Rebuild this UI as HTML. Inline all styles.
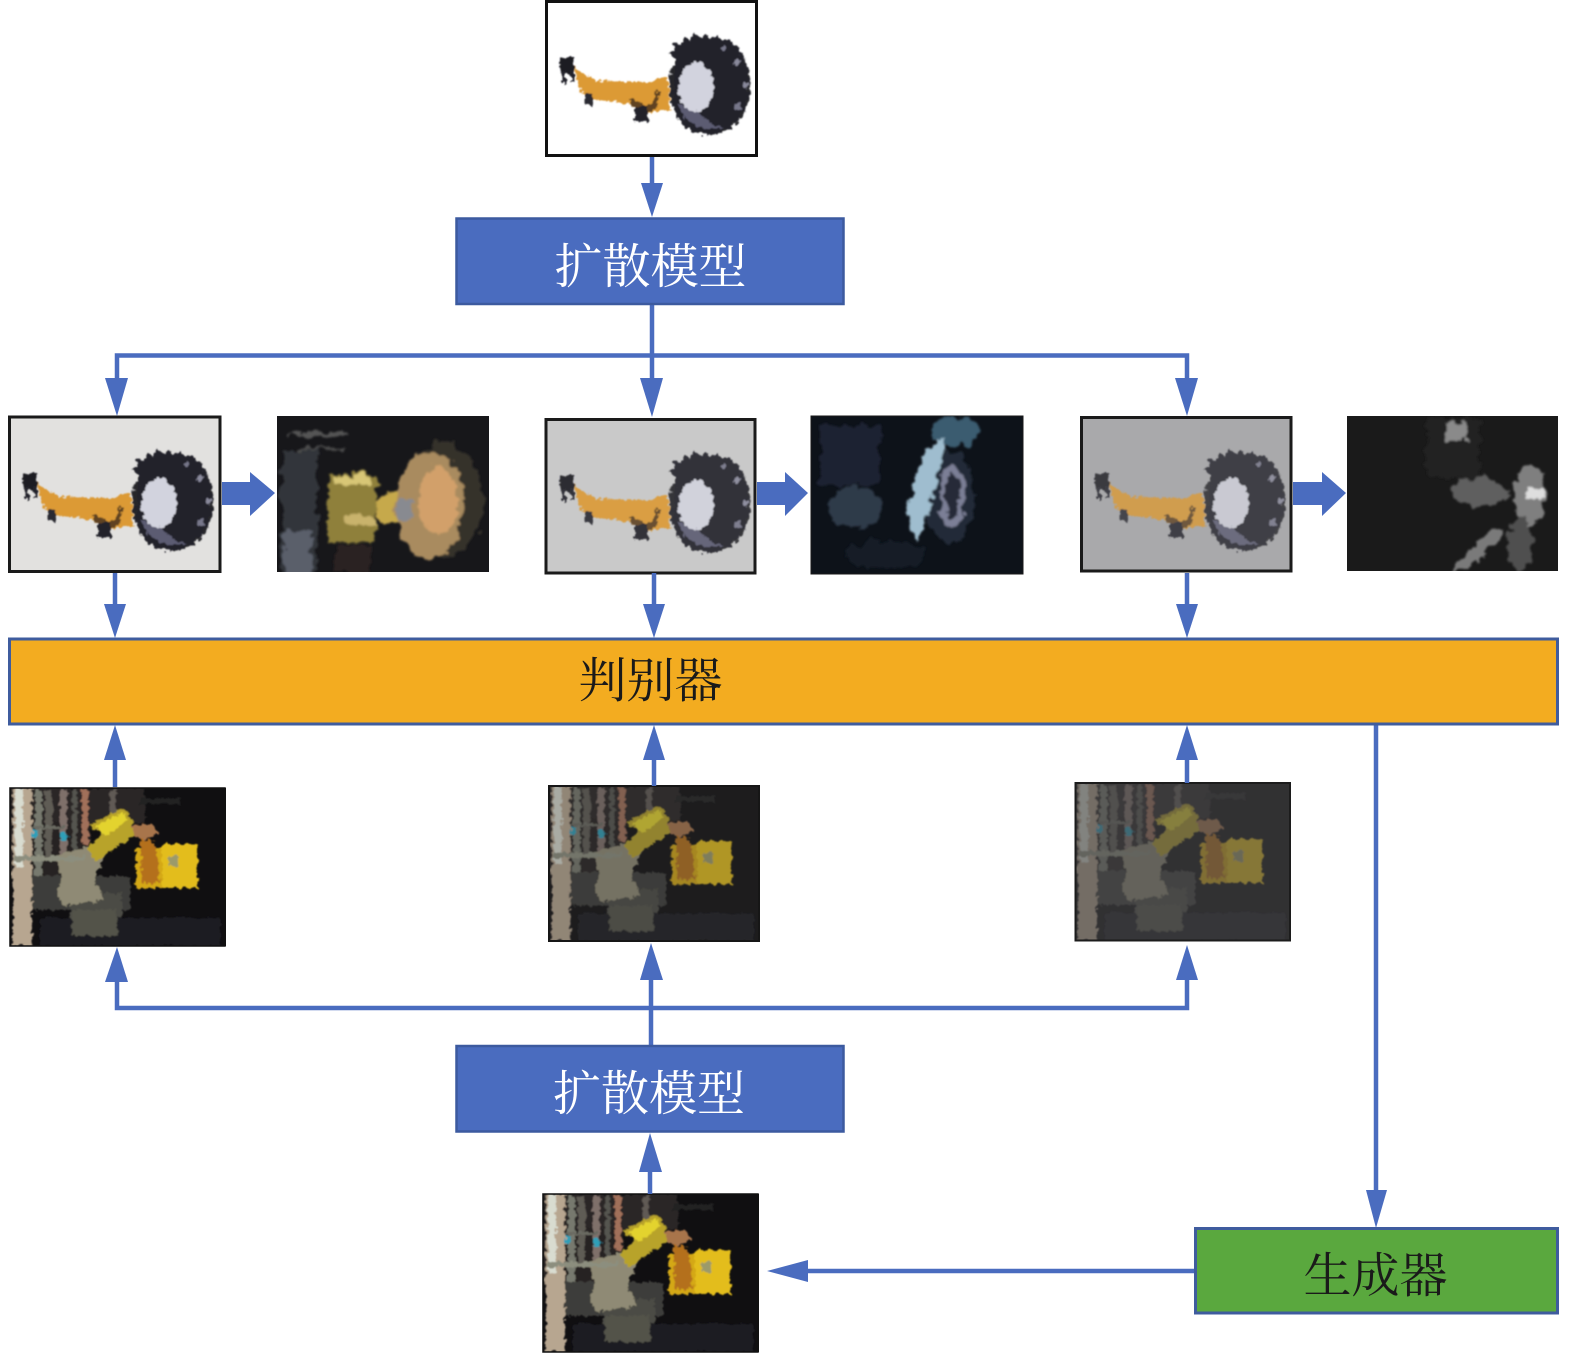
<!DOCTYPE html>
<html><head><meta charset="utf-8"><style>
html,body{margin:0;padding:0;background:#fff}
svg{display:block}
text{font-family:"Liberation Serif","Noto Serif CJK SC",serif;font-size:48px;text-anchor:middle}
</style></head><body>
<svg width="1575" height="1359" viewBox="0 0 1575 1359" xmlns="http://www.w3.org/2000/svg">
<defs>
<filter id="b" x="-10%" y="-10%" width="120%" height="120%">
  <feTurbulence type="fractalNoise" baseFrequency="0.22" numOctaves="2" seed="4" result="n"/>
  <feDisplacementMap in="SourceGraphic" in2="n" scale="7" xChannelSelector="R" yChannelSelector="G"/>
  <feGaussianBlur stdDeviation="0.7"/>
</filter>
<filter id="b2" x="-20%" y="-20%" width="140%" height="140%">
  <feTurbulence type="fractalNoise" baseFrequency="0.09" numOctaves="3" seed="7" result="n"/>
  <feDisplacementMap in="SourceGraphic" in2="n" scale="14" xChannelSelector="R" yChannelSelector="G"/>
  <feGaussianBlur stdDeviation="1"/>
</filter>
<clipPath id="c2"><rect x="0" y="0" width="216" height="158"/></clipPath>
<clipPath id="s1"><rect x="277" y="416" width="212" height="156"/></clipPath>
<clipPath id="s2"><rect x="811" y="416" width="212" height="158"/></clipPath>
<clipPath id="s3"><rect x="1347" y="416" width="211" height="155"/></clipPath>

<g id="mach" filter="url(#b)">
  <polygon points="29,67 39,74 52,81 105,82 122,77 126,111 102,112 85,104 47,99 35,91" fill="#dc9a34"/>
  <polygon points="85,98 100,106 108,102 112,90 115,92 112,108 102,112 85,104" fill="#5f4322"/>
  <rect x="15" y="57" width="14" height="17" fill="#1e1e24"/>
  <rect x="17" y="70" width="4" height="13" fill="#22222a"/><rect x="26" y="70" width="3" height="12" fill="#22222a"/>
  <rect x="40" y="94" width="7" height="11" fill="#2a2a30"/>
  <rect x="90" y="106" width="13" height="16" fill="#23232b"/>
  <ellipse cx="165" cy="86" rx="41" ry="48" fill="#26262c"/>
  <path d="M130,58l-7,-4 5,-4 1,-7 7,2 3,-7 6,3 4,-7 6,4 6,-4 5,4 7,-3 4,5 7,-1 3,6 6,1 1,7 6,4 -2,6 6,5 -3,6 4,7 -4,7 3,8 -4,5 1,8 -6,4 -1,7 -7,2 -3,7 -7,0 -4,6 -6,-3 -6,5 -5,-5 -7,2 -3,-6 -7,0 -2,-7 -6,-3 1,-7 -6,-6 4,-6 -4,-7 4,-7z" fill="#22222a"/>
  <path d="M132,104 Q146,135 178,128 Q160,122 150,108z" fill="#5c5c72"/>
  <circle cx="200" cy="85" r="3" fill="#8a8a9c"/><circle cx="192" cy="62" r="2.500" fill="#8a8a9c"/><circle cx="193" cy="107" r="4" fill="#77778a"/><circle cx="178" cy="48" r="2" fill="#77778a"/>
  <ellipse cx="151" cy="87" rx="18" ry="25" fill="#d2d3de"/>
</g>

<g id="mine" clip-path="url(#c2)">
  <rect width="216" height="158" fill="#100f11"/>
  <g filter="url(#b)">
    <rect x="0" y="0" width="135" height="35" fill="#2c2726"/>
    <rect x="0" y="35" width="80" height="55" fill="#262221"/>
    <rect x="130" y="10" width="40" height="6" fill="#222"/>
    <rect x="25" y="2" width="7" height="88" fill="#77796e"/>
    <rect x="35" y="2" width="7" height="70" fill="#5f5b55"/>
    <rect x="50" y="2" width="7" height="70" fill="#7f706a"/>
    <rect x="62" y="2" width="5" height="65" fill="#555450"/>
    <rect x="72" y="2" width="6" height="55" fill="#a1705a"/>
    <rect x="100" y="2" width="6" height="28" fill="#605a54"/>
    <rect x="14" y="38" width="40" height="3" fill="#6a6a62"/>
    <circle cx="24" cy="46" r="4" fill="#2f9fb8"/><circle cx="54" cy="48" r="4" fill="#2f9fb8"/>
    <rect x="20" y="88" width="100" height="34" fill="#3d3d3a"/>
    <rect x="60" y="105" width="52" height="44" fill="#4c4c44"/>
    <rect x="30" y="130" width="180" height="28" fill="#1e1e22"/>
    <rect x="62" y="122" width="45" height="26" fill="#53524a"/>
    <polygon points="45,68 80,58 96,65 84,92 95,112 52,118 46,102 52,92" fill="#8f8a74"/>
    <polygon points="78,38 112,20 122,30 124,48 96,66 84,75 78,60 92,45" fill="#b8a32c"/>
    <polygon points="85,38 112,25 118,32 95,48" fill="#e3d32e"/>
    <polygon points="122,38 142,36 148,45 135,52 124,48" fill="#a8754c"/>
    <rect x="126" y="60" width="62" height="40" fill="#d4a816"/>
    <rect x="152" y="56" width="36" height="44" fill="#e3bd1c"/>
    <polygon points="130,50 145,55 150,95 132,95" fill="#b4701e"/>
    <rect x="158" y="68" width="10" height="10" fill="#9b9a6a"/>
    <rect x="3" y="0" width="19" height="158" fill="#b7a690"/>
    <rect x="5" y="0" width="8" height="80" fill="#d9dcd0"/>
    <rect x="4" y="68" width="70" height="5" fill="#8c8e7e"/>
  </g>
</g>
</defs>

<!-- Top image -->
<rect x="546.500" y="1.500" width="210" height="154" fill="#fff" stroke="#111" stroke-width="3"/>
<use href="#mach" x="545" y="0"/>

<!-- Second-row images -->
<rect x="9.500" y="417" width="210.500" height="154.500" fill="#e2e1df" stroke="#1a1a1a" stroke-width="3"/>
<use href="#mach" x="8" y="416"/>

<rect x="277" y="416" width="212" height="156" fill="#17171a"/>
<g clip-path="url(#s1)"><g filter="url(#b2)">
  <rect x="281" y="450" width="36" height="128" fill="#33363a"/>
  <rect x="284" y="530" width="28" height="48" fill="#5a5f6a"/>
  <rect x="290" y="432" width="60" height="4" fill="#555"/>
  <rect x="300" y="447" width="45" height="3" fill="#4c4c4c"/>
  <rect x="328" y="474" width="48" height="68" fill="#8f803a"/>
  <rect x="334" y="476" width="38" height="9" fill="#d8c676"/>
  <rect x="345" y="515" width="30" height="12" fill="#c9b36c"/>
  <rect x="335" y="545" width="35" height="27" fill="#2b2320"/>
  <ellipse cx="390" cy="508" rx="14" ry="16" fill="#c6a94c"/>
  <ellipse cx="442" cy="500" rx="42" ry="58" fill="#35302b"/>
  <ellipse cx="430" cy="505" rx="34" ry="54" fill="#a98b5e"/>
  <ellipse cx="438" cy="500" rx="20" ry="34" fill="#d2a06a"/>
  <rect x="398" y="498" width="14" height="22" fill="#888a90"/>
</g></g>

<rect x="546" y="419.500" width="209" height="153.500" fill="#c9c9c9" stroke="#1a1a1a" stroke-width="3"/>
<use href="#mach" x="545" y="418" opacity=".9"/>

<rect x="811" y="416" width="212" height="158" fill="#0d1219" stroke="#1a1a1a" stroke-width="1"/>
<g clip-path="url(#s2)"><g filter="url(#b2)">
  <rect x="820" y="425" width="60" height="60" fill="#1b2430"/>
  <ellipse cx="955" cy="432" rx="24" ry="15" fill="#3b5c70"/>
  <ellipse cx="855" cy="508" rx="28" ry="22" fill="#2d3a4a"/>
  <ellipse cx="885" cy="555" rx="40" ry="14" fill="#161d28"/>
  <ellipse cx="950" cy="497" rx="24" ry="46" fill="#242a38"/>
  <ellipse cx="952" cy="497" rx="13" ry="32" fill="#7b7f96"/>
  <ellipse cx="952" cy="497" rx="7" ry="23" fill="#252a38"/>
  <polygon points="905,515 925,450 945,437 930,510 917,540" fill="#9fbdcf"/>
</g></g>

<rect x="1081.500" y="417.500" width="209.500" height="153.500" fill="#a9a9ab" stroke="#1a1a1a" stroke-width="3"/>
<use href="#mach" x="1080" y="416" opacity=".78"/>

<rect x="1347" y="416" width="211" height="155" fill="#1a1a1a"/>
<g clip-path="url(#s3)"><g filter="url(#b2)">
  <rect x="1425" y="418" width="55" height="60" fill="#232323"/>
  <rect x="1445" y="422" width="22" height="18" fill="#8a8a8a"/>
  <ellipse cx="1480" cy="492" rx="28" ry="15" fill="#5f5f5f"/>
  <ellipse cx="1530" cy="495" rx="16" ry="30" fill="#7f7f7f"/>
  <rect x="1525" y="487" width="18" height="12" fill="#dedede"/>
  <polygon points="1450,571 1490,530 1505,532 1470,571" fill="#7a7a7a"/>
  <ellipse cx="1520" cy="545" rx="12" ry="28" fill="#4f4f4f"/>
</g></g>

<!-- Third-row images -->
<use href="#mine" transform="translate(10,788)"/>
<rect x="10" y="788" width="215" height="158" fill="none" stroke="#111" stroke-width="1.500"/>

<g transform="translate(549,786) scale(.974,.982)"><use href="#mine"/><rect width="216" height="158" fill="#3a3a3c" opacity=".3"/></g>
<rect x="549" y="786" width="210" height="155" fill="none" stroke="#161616" stroke-width="2"/>

<g transform="translate(1075,783)"><use href="#mine"/><rect width="216" height="158" fill="#48484a" opacity=".6"/></g>
<rect x="1075.500" y="783" width="214.500" height="157.500" fill="none" stroke="#1c1c1c" stroke-width="2"/>

<use href="#mine" transform="translate(543,1194)"/>
<rect x="543" y="1194" width="215" height="158" fill="none" stroke="#111" stroke-width="1.500"/>

<!-- Connectors -->
<g fill="none" stroke="#4a6cbf" stroke-width="4.500">
  <path d="M652,157V190"/>
  <path d="M652,304V390"/>
  <path d="M117,385V355.500H1187V385"/>
  <path d="M115,573V610M654,573V610M1187,573V610"/>
  <path d="M115,787V755M654,786V755M1187,783V755"/>
  <path d="M117,975V1008H1187V975"/>
  <path d="M651,1046V975"/>
  <path d="M650,1194V1165"/>
  <path d="M1376,724V1195"/>
  <path d="M1195,1271H805"/>
</g>
<g fill="#4a6cbf">
  <polygon points="641,183 663,183 652,217"/>
  <polygon points="105,378 128,378 117,416"/>
  <polygon points="640,378 663,378 652,417"/>
  <polygon points="1175,378 1198,378 1187,416"/>
  <polygon points="104,604 126,604 115,638"/>
  <polygon points="643,604 665,604 654,638"/>
  <polygon points="1176,604 1198,604 1187,638"/>
  <polygon points="104,760 126,760 115,725"/>
  <polygon points="643,760 665,760 654,725"/>
  <polygon points="1176,760 1198,760 1187,725"/>
  <polygon points="105,982 128,982 117,947"/>
  <polygon points="640,980 663,980 651,943"/>
  <polygon points="1176,980 1198,980 1187,945"/>
  <polygon points="639,1172 662,1172 650,1133"/>
  <polygon points="1366,1190 1387,1190 1376,1228"/>
  <polygon points="767,1271 808,1260 808,1282"/>
  <polygon points="222,482 250,482 250,472 275,493 250,516 250,505 222,505"/>
  <polygon points="757,482 785,482 785,472 808,493 785,516 785,505 757,505"/>
  <polygon points="1293,482 1322,482 1322,472 1346,493 1322,516 1322,505 1293,505"/>
</g>

<!-- Boxes -->
<rect x="456.500" y="218.500" width="387" height="85.500" fill="#4a6cbf" stroke="#3c5a9f" stroke-width="2.500"/>
<text x="650.500" y="283" fill="#fff">扩散模型</text>

<rect x="9.500" y="639" width="1548" height="85" fill="#f3ac20" stroke="#3f5c9e" stroke-width="3"/>
<text x="650.500" y="697" fill="#1a1a1a">判别器</text>

<rect x="456.500" y="1046" width="387" height="85.500" fill="#4a6cbf" stroke="#3c5a9f" stroke-width="2.500"/>
<text x="649" y="1110" fill="#fff">扩散模型</text>

<rect x="1195.500" y="1228.500" width="362" height="84.500" fill="#5aa83e" stroke="#3f5c9e" stroke-width="3"/>
<text x="1375.500" y="1292" fill="#1a1a1a">生成器</text>
</svg>
</body></html>
